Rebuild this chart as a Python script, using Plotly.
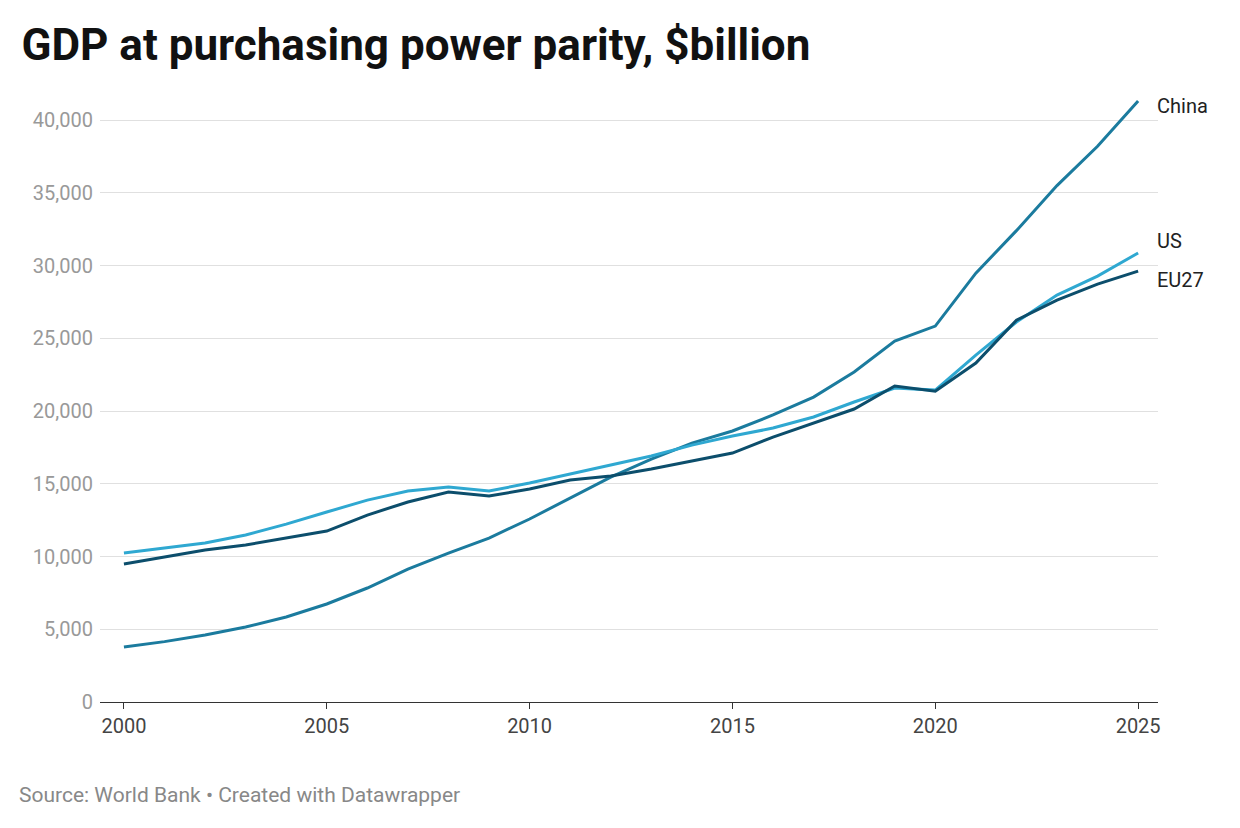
import plotly.graph_objects as go

years = list(range(2000, 2026))
china = [3780, 4150, 4600, 5150, 5840, 6735, 7835, 9140, 10240, 11270, 12580, 14020, 15460, 16700,
         17800, 18630, 19730, 20960, 22680, 24810, 25840, 29480, 32400, 35500, 38200, 41310]
us = [10240, 10580, 10930, 11480, 12230, 13060, 13880, 14500, 14780, 14500, 15050, 15670, 16290, 16910,
      17660, 18280, 18830, 19590, 20620, 21580, 21440, 23850, 26120, 27970, 29280, 30860]
eu27 = [9480, 9970, 10450, 10790, 11270, 11750, 12850, 13750, 14430, 14160, 14640, 15260, 15530, 16010,
        16560, 17110, 18210, 19180, 20140, 21720, 21370, 23300, 26250, 27630, 28730, 29620]

series = [("China", china, "#1b7b9e"), ("US", us, "#2fa8d1"), ("EU27", eu27, "#0c4e6c")]
label_y = {"China": 41000, "US": 31700, "EU27": 29000}

fig = go.Figure()
for name, vals, col in series:
    fig.add_trace(go.Scatter(x=years, y=vals, mode="lines", name=name,
                             line=dict(color=col, width=3)))
    fig.add_annotation(x=2025, y=label_y[name], text=name, xref="x", yref="y",
                       xanchor="left", showarrow=False, xshift=17,
                       font=dict(size=20, color="#222"))

fig.update_layout(
    width=1224, height=812,
    margin=dict(l=92, r=74, t=83, b=118),
    plot_bgcolor="white", paper_bgcolor="white",
    font=dict(family="Roboto", color="#333"),
    showlegend=False,
    title=dict(text="<b>GDP at purchasing power parity, $billion</b>",
               x=0.011, xanchor="left", y=0.955, yanchor="middle",
               font=dict(size=44, color="#111")),
)
fig.update_xaxes(range=[1999.41, 2025.49], tickvals=[2000, 2005, 2010, 2015, 2020, 2025],
                 showgrid=False, showline=True, linecolor="#333", linewidth=1,
                 ticks="outside", ticklen=6, tickcolor="#333",
                 tickfont=dict(size=20, color="#444"))
fig.update_yaxes(range=[0, 42000], tickvals=list(range(0, 40001, 5000)),
                 tickformat=",", gridcolor="#e0e0e0", zeroline=False,
                 tickfont=dict(size=20, color="#999"), ticklabelstandoff=6)
fig.add_annotation(text="Source: World Bank • Created with Datawrapper", xref="paper", yref="paper",
                   x=-0.078, y=-0.152, xanchor="left", yanchor="middle", showarrow=False,
                   font=dict(size=21, color="#888"))
fig.write_html("out.html")
